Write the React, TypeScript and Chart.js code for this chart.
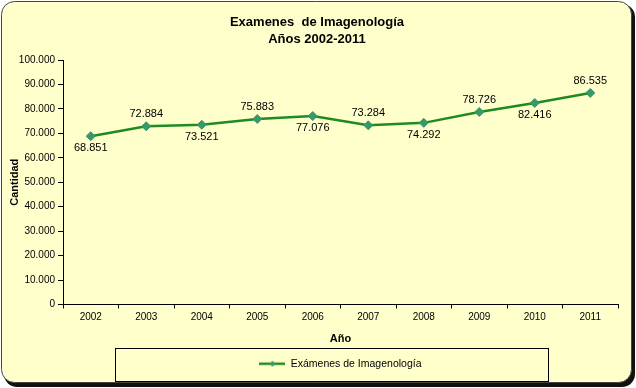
import React, { useEffect, useRef } from "react";
import { Chart, registerables } from "chart.js";

Chart.register(...registerables);

const years = ["2002", "2003", "2004", "2005", "2006", "2007", "2008", "2009", "2010", "2011"];
const examenes = [68851, 72884, 73521, 75883, 77076, 73284, 74292, 78726, 82416, 86535];
const titleLines = ["Examenes  de Imagenología", "Años 2002-2011"];
const seriesName = "Exámenes de Imagenología";
const yTitle = "Cantidad";
const xTitle = "Año";

const LINE = "#1f8a24";
const MARK = "#389868";
const BG = "#FFFFCC";
const FONT = "Arial, 'Liberation Sans', sans-serif";

const fmt = (v: number) => String(Math.round(v)).replace(/\B(?=(\d{3})+(?!\d))/g, ".");

function roundRect(ctx: CanvasRenderingContext2D, x: number, y: number, w: number, h: number, r: number) {
  ctx.beginPath();
  ctx.moveTo(x + r, y);
  ctx.lineTo(x + w - r, y);
  ctx.arcTo(x + w, y, x + w, y + r, r);
  ctx.lineTo(x + w, y + h - r);
  ctx.arcTo(x + w, y + h, x + w - r, y + h, r);
  ctx.lineTo(x + r, y + h);
  ctx.arcTo(x, y + h, x, y + h - r, r);
  ctx.lineTo(x, y + r);
  ctx.arcTo(x, y, x + r, y, r);
  ctx.closePath();
}

function legendIcon(): HTMLCanvasElement {
  const c = document.createElement("canvas");
  c.width = 26;
  c.height = 10;
  const g = c.getContext("2d")!;
  g.strokeStyle = LINE;
  g.lineWidth = 2.5;
  g.beginPath();
  g.moveTo(0, 5);
  g.lineTo(26, 5);
  g.stroke();
  g.fillStyle = MARK;
  g.beginPath();
  g.moveTo(13, 2);
  g.lineTo(16, 5);
  g.lineTo(13, 8);
  g.lineTo(10, 5);
  g.closePath();
  g.fill();
  return c;
}

const framePlugin = {
  id: "frame",
  beforeDraw(chart: any) {
    const ctx = chart.ctx as CanvasRenderingContext2D;
    const W = chart.width;
    const H = chart.height;
    ctx.save();
    roundRect(ctx, 4, 4, W - 5, H - 5, 13);
    ctx.fillStyle = "#111";
    ctx.fill();
    roundRect(ctx, 1.5, 1.5, W - 6, H - 7, 13);
    ctx.fillStyle = BG;
    ctx.fill();
    ctx.lineWidth = 1;
    ctx.strokeStyle = "#444";
    ctx.stroke();
    ctx.restore();
  },
  afterDraw(chart: any) {
    const ctx = chart.ctx as CanvasRenderingContext2D;
    const lg = chart.legend;
    const ca = chart.chartArea;
    if (!lg) return;
    ctx.save();
    ctx.strokeStyle = "#000";
    ctx.lineWidth = 1;
    ctx.strokeRect(Math.round(ca.left + 52) + 0.5, Math.round(lg.top + 1) + 0.5, Math.round(ca.right - ca.left - 122), 33);
    ctx.restore();
  },
};

const labelPlugin = {
  id: "pointLabels",
  afterDatasetsDraw(chart: any) {
    const ctx = chart.ctx as CanvasRenderingContext2D;
    const meta = chart.getDatasetMeta(0);
    const data = chart.data.datasets[0].data as number[];
    ctx.save();
    ctx.font = `11px ${FONT}`;
    ctx.fillStyle = "#000";
    ctx.textAlign = "center";
    ctx.textBaseline = "middle";
    meta.data.forEach((pt: any, i: number) => {
      const dy = i % 2 === 0 ? 12 : -12;
      ctx.fillText(fmt(data[i]), pt.x, pt.y + dy);
    });
    ctx.restore();
  },
};

export default function App() {
  const ref = useRef<HTMLCanvasElement>(null);
  useEffect(() => {
    if (!ref.current) return;
    const chart = new Chart(ref.current, {
      type: "line",
      data: {
        labels: years,
        datasets: [
          {
            label: seriesName,
            data: examenes,
            borderColor: LINE,
            borderWidth: 2.5,
            backgroundColor: MARK,
            pointStyle: "rectRot",
            pointRadius: 4.5,
            pointBackgroundColor: MARK,
            pointBorderColor: MARK,
            pointBorderWidth: 1,
            tension: 0,
            fill: false,
          },
        ],
      },
      options: {
        responsive: false,
        animation: false,
        devicePixelRatio: 1,
        layout: { padding: { left: 16, right: 18, top: 0, bottom: 9 } },
        plugins: {
          title: {
            display: true,
            text: titleLines,
            color: "#000",
            font: { family: FONT, size: 13, weight: "bold", lineHeight: 1.3 },
            padding: { top: 14, bottom: 12.2 },
          },
          legend: {
            display: true,
            position: "bottom",
            fullSize: false,
            labels: {
              usePointStyle: true,
              pointStyle: legendIcon() as any,
              pointStyleWidth: 26,
              color: "#000",
              font: { family: FONT, size: 10.5 },
              padding: 12,
            },
          },
          tooltip: { enabled: false },
        },
        scales: {
          x: {
            type: "category",
            offset: true,
            grid: { display: true, drawOnChartArea: false, drawTicks: true, tickLength: 4, offset: true, color: "#000" },
            border: { display: true, color: "#000", width: 1 },
            ticks: { color: "#000", font: { family: FONT, size: 10 }, padding: 3, maxRotation: 0 },
            title: {
              display: true,
              text: xTitle,
              color: "#000",
              font: { family: FONT, size: 11, weight: "bold" },
              padding: { top: 4, bottom: 0.5 },
            },
            afterFit: (s: any) => {
              s.height = 42;
            },
          },
          y: {
            min: 0,
            max: 100000,
            grid: { display: true, drawOnChartArea: false, drawTicks: true, tickLength: 5, color: "#000" },
            border: { display: true, color: "#000", width: 1 },
            ticks: {
              stepSize: 10000,
              color: "#000",
              font: { family: FONT, size: 10 },
              padding: 3,
              callback: (v: any) => fmt(Number(v)),
            },
            title: {
              display: true,
              text: yTitle,
              color: "#000",
              font: { family: FONT, size: 11, weight: "bold" },
              padding: { top: -7.6, bottom: 0 },
            },
            afterFit: (s: any) => {
              s.width = 47;
            },
          },
        },
      },
      plugins: [framePlugin, labelPlugin],
    });
    return () => chart.destroy();
  }, []);
  return (
    <div style={{ position: "absolute", left: 0, top: 0 }}>
      <canvas ref={ref} width={636} height={388} style={{ display: "block" }} />
    </div>
  );
}
